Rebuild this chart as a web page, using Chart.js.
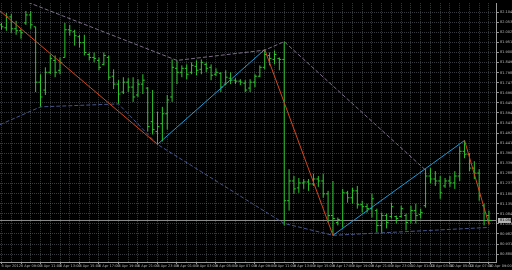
<!DOCTYPE html>
<html>
<head>
<meta charset="utf-8">
<script src="https://cdn.jsdelivr.net/npm/chart.js@4.4.1/dist/chart.umd.min.js"></script>
<style>
  html, body { margin: 0; padding: 0; background: #000; overflow: hidden; }
  #wrap { width: 512px; height: 270px; position: relative; background: #000; }
</style>
</head>
<body>
<div id="wrap"><canvas id="priceChart"></canvas></div>
<script>
// barras M30 (indice da barra -> preco)
const highs = [82.050, 82.100, 82.095, 82.060, 82.020, 82.110, 82.110, 82.030, 81.790, 81.825,
  81.890, 81.885, 81.875, 82.050, 82.040, 82.015, 81.990, 81.990, 81.900, 81.900,
  81.875, 81.900, 81.885, 81.815, 81.760, 81.775, 81.770, 81.775, 81.765, 81.790,
  81.725, 81.710, 81.600, 81.625, 81.685, 81.865, 81.860, 81.835, 81.840, 81.850,
  81.860, 81.865, 81.850, 81.840, 81.820, 81.800, 81.810, 81.800, 81.770, 81.765,
  81.760, 81.765, 81.790, 81.835, 81.915, 81.900, 81.910, 81.875, 81.955, 81.310,
  81.275, 81.265, 81.260, 81.260, 81.285, 81.275, 81.285, 81.200, 81.250, 81.065,
  81.210, 81.200, 81.215, 81.225, 81.150, 81.135, 81.185, 81.110, 81.090, 81.085,
  81.140, 81.075, 81.125, 81.085, 81.125, 81.135, 81.110, 81.310, 81.315, 81.300,
  81.275, 81.265, 81.275, 81.300, 81.425, 81.455, 81.390, 81.350, 81.310, 81.135,
  81.100];
const lows = [82.015, 82.010, 82.000, 81.990, 81.970, 82.040, 82.020, 81.700, 81.625, 81.685,
  81.790, 81.775, 81.790, 81.875, 81.985, 81.935, 81.925, 81.885, 81.860, 81.850,
  81.810, 81.835, 81.760, 81.715, 81.640, 81.690, 81.700, 81.650, 81.675, 81.690,
  81.500, 81.485, 81.435, 81.450, 81.510, 81.650, 81.740, 81.775, 81.765, 81.790,
  81.785, 81.790, 81.800, 81.760, 81.780, 81.700, 81.735, 81.740, 81.740, 81.735,
  81.700, 81.700, 81.725, 81.775, 81.815, 81.835, 81.840, 81.810, 81.025, 81.100,
  81.185, 81.190, 81.210, 81.200, 81.225, 81.220, 81.165, 81.040, 80.975, 81.025,
  81.015, 81.140, 81.135, 81.110, 81.090, 81.090, 81.065, 80.990, 80.985, 81.010,
  81.060, 81.035, 81.065, 81.000, 81.035, 81.035, 81.060, 81.115, 81.240, 81.225,
  81.160, 81.215, 81.220, 81.210, 81.250, 81.365, 81.300, 81.260, 81.150, 81.025,
  81.030];
const opens = [82.040, 82.025, 82.080, 82.020, 82.010, 82.050, 82.090, 82.030, 81.750, 81.710,
  81.800, 81.860, 81.810, 81.875, 82.015, 82.005, 81.980, 81.950, 81.890, 81.875,
  81.860, 81.840, 81.875, 81.780, 81.740, 81.700, 81.750, 81.725, 81.685, 81.740,
  81.720, 81.550, 81.500, 81.540, 81.590, 81.675, 81.820, 81.800, 81.820, 81.800,
  81.830, 81.815, 81.840, 81.825, 81.790, 81.795, 81.740, 81.770, 81.760, 81.755,
  81.745, 81.720, 81.750, 81.780, 81.825, 81.885, 81.865, 81.870, 81.865, 81.150,
  81.250, 81.215, 81.240, 81.245, 81.235, 81.260, 81.250, 81.185, 81.075, 81.040,
  81.050, 81.190, 81.165, 81.200, 81.130, 81.120, 81.110, 81.100, 81.025, 81.075,
  81.070, 81.070, 81.070, 81.075, 81.050, 81.100, 81.080, 81.125, 81.275, 81.260,
  81.250, 81.225, 81.250, 81.240, 81.275, 81.400, 81.385, 81.315, 81.290, 81.125,
  81.075];
const closes = [82.030, 82.080, 82.020, 82.010, 82.000, 82.090, 82.040, 81.750, 81.675, 81.800,
  81.870, 81.800, 81.850, 82.015, 82.010, 81.985, 81.950, 81.900, 81.875, 81.870,
  81.825, 81.885, 81.775, 81.740, 81.690, 81.750, 81.725, 81.675, 81.740, 81.760,
  81.525, 81.510, 81.525, 81.590, 81.660, 81.825, 81.800, 81.820, 81.790, 81.835,
  81.810, 81.850, 81.820, 81.785, 81.800, 81.725, 81.775, 81.760, 81.755, 81.750,
  81.710, 81.750, 81.780, 81.825, 81.890, 81.870, 81.890, 81.865, 81.150, 81.250,
  81.210, 81.240, 81.245, 81.235, 81.260, 81.250, 81.185, 81.075, 81.060, 81.055,
  81.190, 81.165, 81.200, 81.130, 81.120, 81.110, 81.160, 81.025, 81.075, 81.040,
  81.120, 81.060, 81.110, 81.040, 81.100, 81.075, 81.090, 81.275, 81.260, 81.250,
  81.190, 81.250, 81.240, 81.275, 81.400, 81.385, 81.315, 81.290, 81.175, 81.050,
  81.050];

// zigzag (topos e fundos)
const zigzagIdx = [-0.3, 32, 54, 68, 95, 100];
const zigzagPrice = [82.110, 81.435, 81.915, 80.975, 81.455, 81.030];

// linhas tracejadas
const upperIdx = [-0.3, 36, 54, 58, 87];
const upperPrice = [82.209, 81.860, 81.912, 81.955, 81.305];
const lowerIdx = [-0.3, 8, 24, 32, 58, 68, 100];
const lowerPrice = [81.535, 81.625, 81.640, 81.435, 81.035, 80.975, 81.015];

// eixos
const timeLabels = ['6 Apr 2012', '6 Apr 09:00', '6 Apr 11:00', '6 Apr 13:00', '6 Apr 15:00', '6 Apr 17:00',
  '6 Apr 19:00', '6 Apr 21:00', '6 Apr 23:00', '9 Apr 01:00', '9 Apr 03:00', '9 Apr 05:00', '9 Apr 07:00',
  '9 Apr 09:00', '9 Apr 11:00', '9 Apr 13:00', '9 Apr 15:00', '9 Apr 17:00', '9 Apr 19:00', '9 Apr 21:00',
  '9 Apr 23:00', '10 Apr 01:00', '10 Apr 03:00', '10 Apr 05:00', '10 Apr 07:00', '10 Apr 09:00'];
const priceTicks = [82.104, 82.053, 82.002, 81.951, 81.900, 81.849, 81.798, 81.747, 81.696, 81.645,
  81.594, 81.543, 81.492, 81.441, 81.390, 81.339, 81.288, 81.237, 81.186, 81.135,
  81.084, 81.033, 80.982, 80.931, 80.880];

const lastPrice = closes[closes.length - 1];
const gridColor = 'rgba(120,128,138,0.45)';
const axisColor = '#9a9a9a';
const labelColor = '#b8b8b8';

// monta as barras OHLC como segmentos de linha
const ohlcPoints = [];
for (let i = 0; i < highs.length; i++) {
  ohlcPoints.push(
    {x: i, y: lows[i]}, {x: i, y: highs[i]}, {x: i, y: null},
    {x: i - 0.4, y: opens[i]}, {x: i, y: opens[i]}, {x: i, y: null},
    {x: i, y: closes[i]}, {x: i + 0.4, y: closes[i]}, {x: i, y: null}
  );
}

const zigDown = [], zigUp = [];
for (let k = 0; k < zigzagIdx.length - 1; k++) {
  const seg = [{x: zigzagIdx[k], y: zigzagPrice[k]}, {x: zigzagIdx[k + 1], y: zigzagPrice[k + 1]}, {x: zigzagIdx[k + 1], y: null}];
  if (zigzagPrice[k + 1] < zigzagPrice[k]) zigDown.push(...seg); else zigUp.push(...seg);
}

const gridIdx = [];
for (let i = 0; i <= 100; i += 2) gridIdx.push(i);

const lastPriceTag = {
  id: 'lastPriceTag',
  afterDraw(chart) {
    const y = chart.scales.y.getPixelForValue(lastPrice);
    const x = chart.chartArea.right + 1;
    const ctx = chart.ctx;
    ctx.save();
    ctx.fillStyle = '#b4b4b4';
    ctx.fillRect(x, y - 2.5, 13, 5);
    ctx.fillStyle = '#000';
    ctx.font = '3.5px "DejaVu Sans"';
    ctx.textBaseline = 'middle';
    ctx.fillText(lastPrice.toFixed(3), x + 2, y);
    ctx.restore();
  }
};

const ctx = document.getElementById('priceChart').getContext('2d');
new Chart(ctx, {
  type: 'scatter',
  data: {
    datasets: [
      { data: zigDown, showLine: true, borderColor: '#d2461e', borderWidth: 1, pointRadius: 0, spanGaps: false, order: 1 },
      { data: zigUp, showLine: true, borderColor: '#1f9ad6', borderWidth: 1, pointRadius: 0, spanGaps: false, order: 1 },
      { data: upperIdx.map((v, k) => ({x: v, y: upperPrice[k]})), showLine: true, borderColor: '#7a6c86', borderWidth: 1, borderDash: [4, 2], pointRadius: 0, order: 2 },
      { data: lowerIdx.map((v, k) => ({x: v, y: lowerPrice[k]})), showLine: true, borderColor: '#46558a', borderWidth: 1, borderDash: [4, 2], pointRadius: 0, order: 2 },
      { data: [{x: -0.31, y: lastPrice}, {x: 101.64, y: lastPrice}], showLine: true, borderColor: '#8c8c8c', borderWidth: 1, pointRadius: 0, order: 4 },
      { data: ohlcPoints, showLine: true, borderColor: '#2cc82c', borderWidth: 1, pointRadius: 0, spanGaps: false, order: 3 }
    ]
  },
  options: {
    responsive: true,
    maintainAspectRatio: false,
    animation: false,
    events: [],
    layout: { padding: 0 },
    plugins: { legend: { display: false }, tooltip: { enabled: false } },
    scales: {
      x: {
        type: 'linear',
        min: -0.31,
        max: 101.64,
        afterBuildTicks: s => { s.ticks = gridIdx.map(v => ({value: v})); },
        afterFit: s => { s.height = 8; },
        ticks: {
          autoSkip: false, maxRotation: 0, align: 'start', padding: 0,
          color: labelColor, font: { family: 'DejaVu Sans', size: 3.5 },
          callback: v => v % 4 === 0 ? (timeLabels[v / 4] || '') : ''
        },
        grid: {
          color: gridColor, lineWidth: 1, drawTicks: true, tickLength: 2,
          tickColor: c => (c.tick && c.tick.value % 4 === 0) ? axisColor : 'transparent'
        },
        border: { display: true, color: axisColor, width: 1, dash: [1, 1] }
      },
      y: {
        type: 'linear',
        position: 'right',
        min: 80.84,
        max: 82.15,
        afterBuildTicks: s => { s.ticks = priceTicks.map(v => ({value: v})); },
        afterFit: s => { s.width = 15; },
        ticks: {
          padding: 1, color: labelColor, font: { family: 'DejaVu Sans', size: 3.5 },
          callback: v => Number(v).toFixed(3)
        },
        grid: { color: gridColor, lineWidth: 1, drawTicks: true, tickLength: 2, tickColor: axisColor },
        border: { display: true, color: axisColor, width: 1, dash: [1, 1] }
      }
    }
  },
  plugins: [lastPriceTag]
});
</script>
</body>
</html>
